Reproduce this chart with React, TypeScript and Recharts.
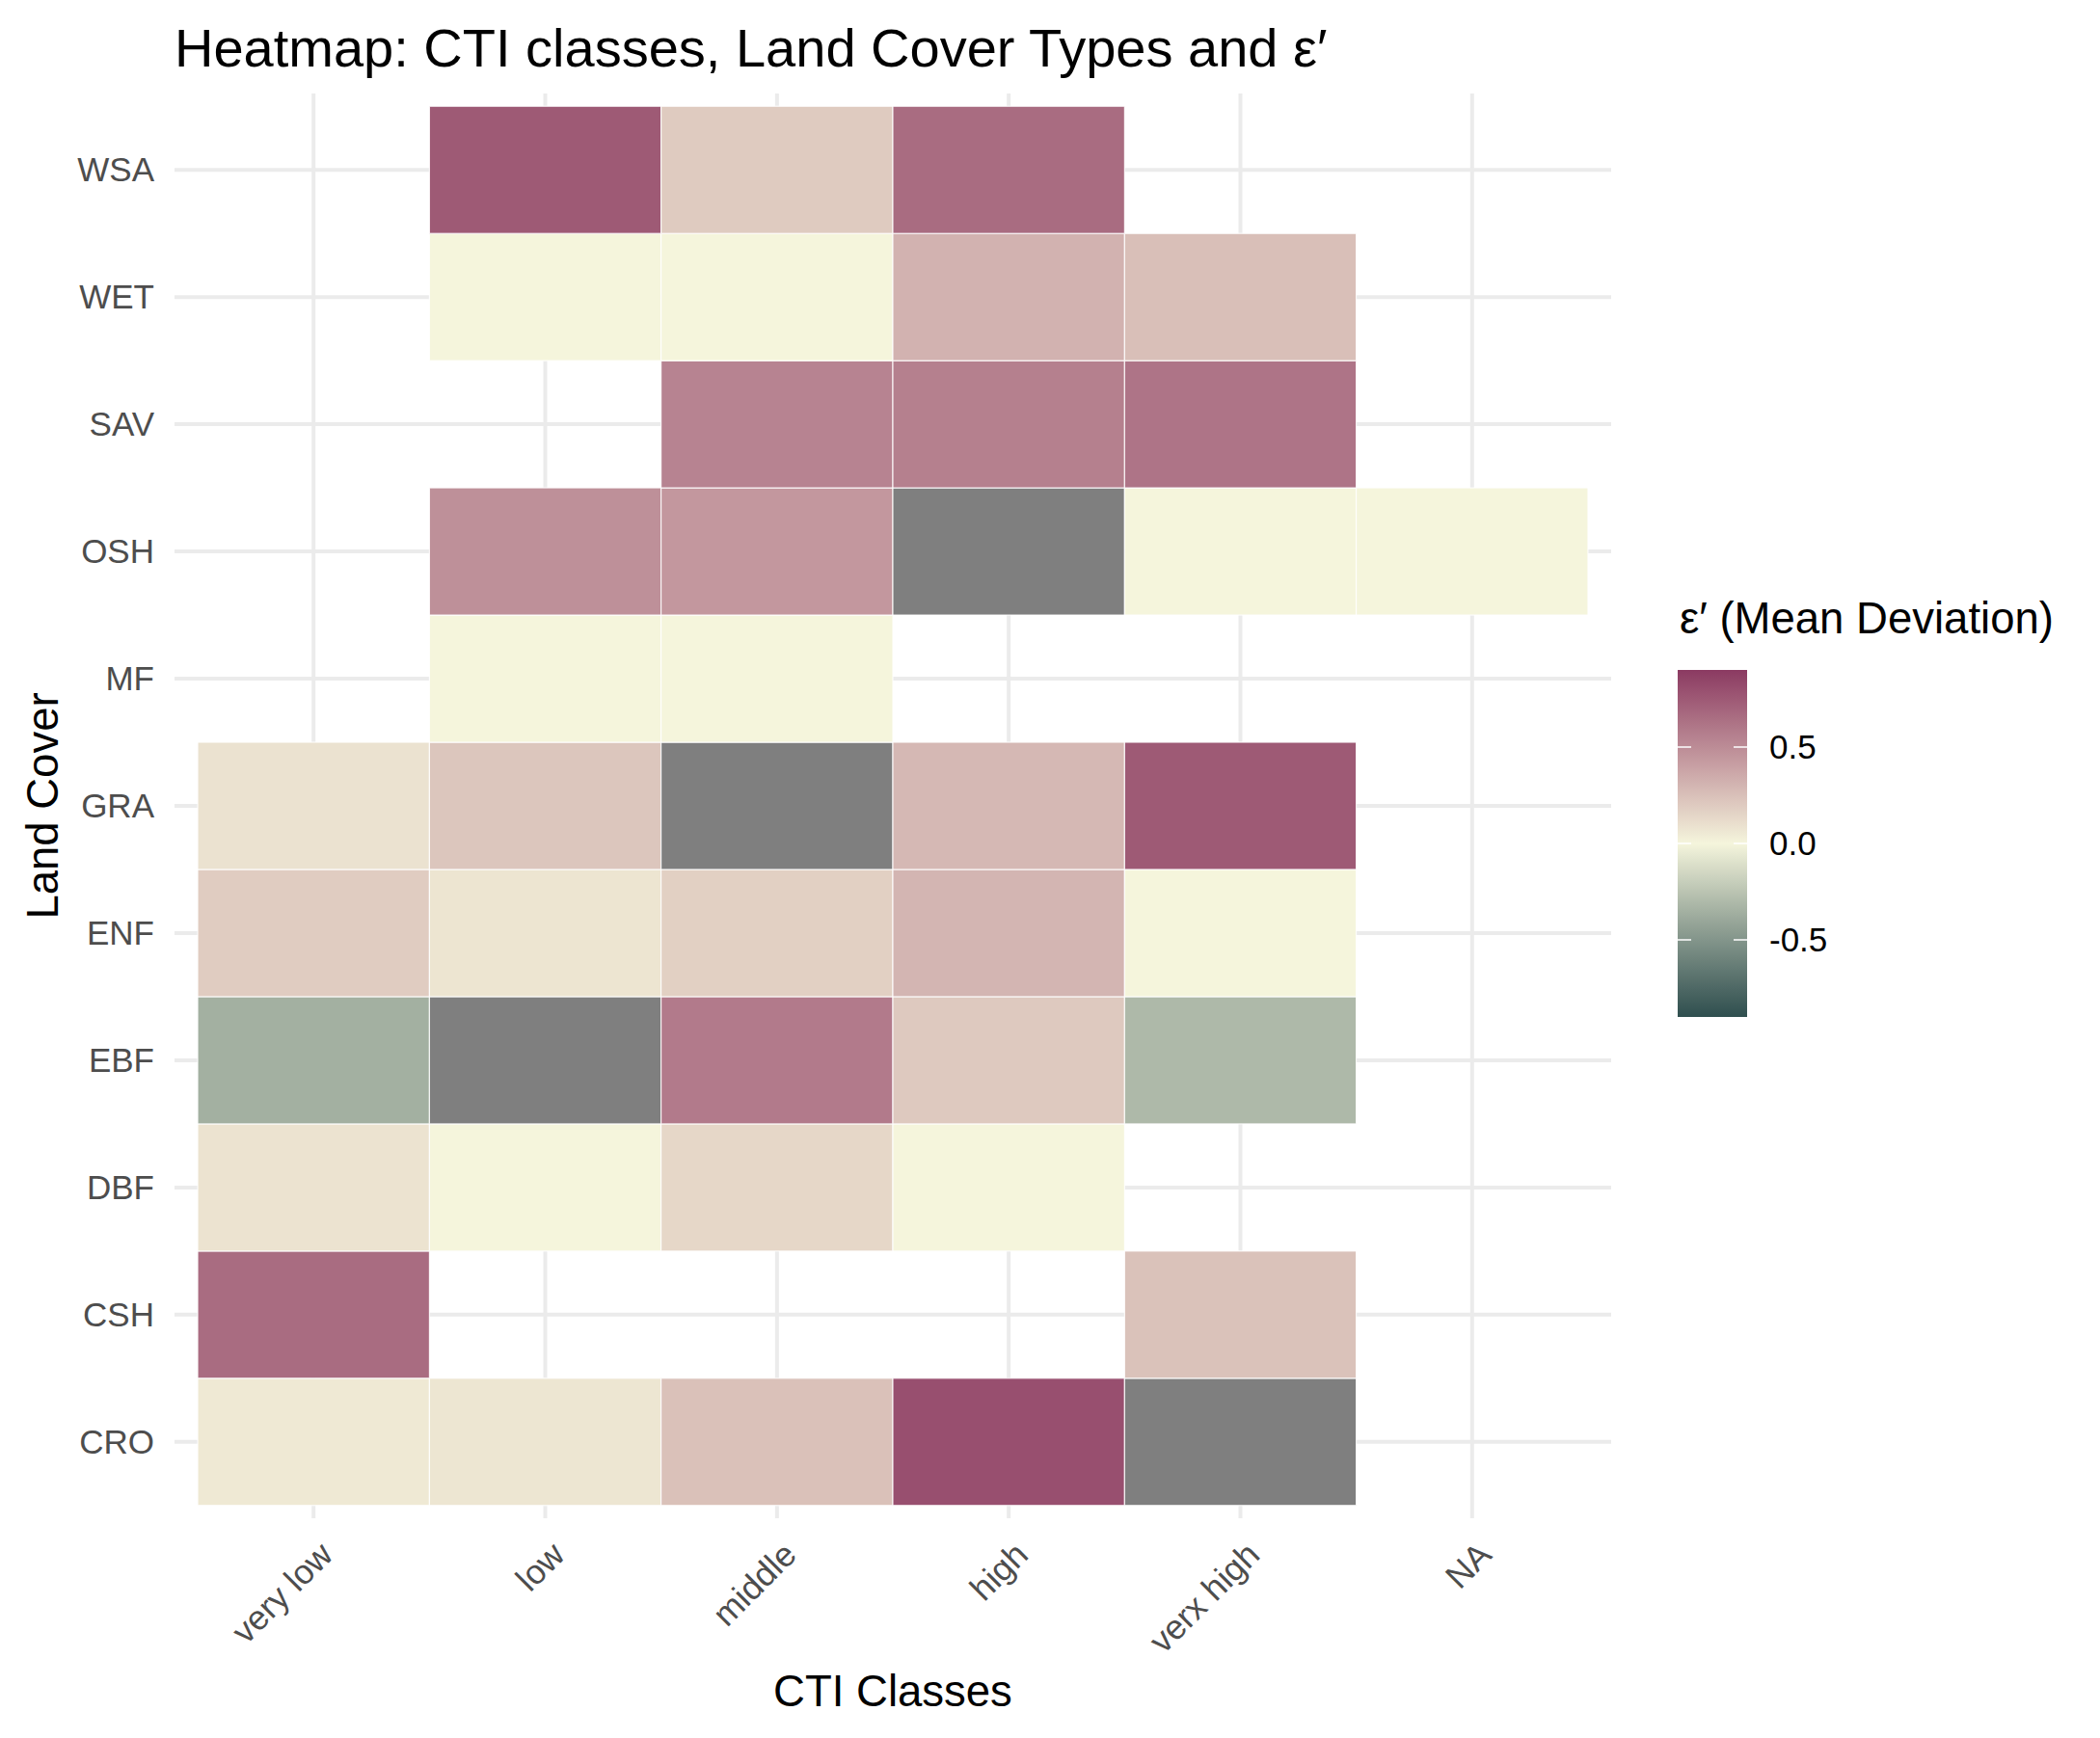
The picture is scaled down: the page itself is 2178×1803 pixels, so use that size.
import React from 'react';
import { ScatterChart, Scatter, XAxis, YAxis, ReferenceArea, ReferenceLine } from 'recharts';

// ---- data ----
const ctiClasses = ['very low', 'low', 'middle', 'high', 'verx high', 'NA'];
// bottom to top
const landCovers = ['CRO', 'CSH', 'DBF', 'EBF', 'ENF', 'GRA', 'MF', 'OSH', 'SAV', 'WET', 'WSA'];

const NA = 'NA';
// values per land cover, in ctiClasses order; null = no tile, NA = missing value tile
const CRO = [0.057, 0.069, 0.245, 0.8, NA, null];
const CSH = [0.657, null, null, null, 0.24, null];
const DBF = [0.085, 0.0, 0.139, 0.0, null, null];
const EBF = [-0.356, NA, 0.586, 0.205, -0.307, null];
const ENF = [0.19, 0.075, 0.174, 0.3, 0.0, null];
const GRA = [0.087, 0.22, NA, 0.286, 0.748, null];
const MF = [null, 0.0, 0.0, null, null, null];
const OSH = [null, 0.482, 0.445, NA, 0.0, 0.0];
const SAV = [null, null, 0.542, 0.56, 0.616, null];
const WET = [null, 0.0, 0.0, 0.315, 0.251, null];
const WSA = [null, 0.748, 0.197, 0.657, null, null];

const rowValues = [CRO, CSH, DBF, EBF, ENF, GRA, MF, OSH, SAV, WET, WSA];

const xTicks = [1, 2, 3, 4, 5, 6];
const yTicks = [1, 2, 3, 4, 5, 6, 7, 8, 9, 10, 11];

const legendLimits = [-0.9, 0.9];
const legendBreaks = [0.5, 0.0, -0.5];

const LOW = '#2F4F4F';
const MID = '#F5F5DC';
const HIGH = '#8B3A62';
const NA_COLOR = '#7F7F7F';

// ---- colour helpers (Lab interpolation like scales::div_gradient_pal) ----
function hexToRgb(h: string) {
  const n = parseInt(h.slice(1), 16);
  return [(n >> 16) & 255, (n >> 8) & 255, n & 255];
}
const toLin = (c: number) => {
  const v = c / 255;
  return v <= 0.04045 ? v / 12.92 : Math.pow((v + 0.055) / 1.055, 2.4);
};
const fromLin = (c: number) => {
  const v = c <= 0.0031308 ? 12.92 * c : 1.055 * Math.pow(c, 1 / 2.4) - 0.055;
  return Math.round(Math.max(0, Math.min(1, v)) * 255);
};
function rgbToLab(rgb: number[]) {
  const R = toLin(rgb[0]), G = toLin(rgb[1]), B = toLin(rgb[2]);
  const X = (0.4124 * R + 0.3576 * G + 0.1805 * B) / 0.95047;
  const Y = 0.2126 * R + 0.7152 * G + 0.0722 * B;
  const Z = (0.0193 * R + 0.1192 * G + 0.9505 * B) / 1.08883;
  const f = (t: number) => (t > 0.008856 ? Math.cbrt(t) : 7.787 * t + 16 / 116);
  return [116 * f(Y) - 16, 500 * (f(X) - f(Y)), 200 * (f(Y) - f(Z))];
}
function labToHex(lab: number[]) {
  const fy = (lab[0] + 16) / 116;
  const fx = fy + lab[1] / 500;
  const fz = fy - lab[2] / 200;
  const finv = (t: number) => (t * t * t > 0.008856 ? t * t * t : (t - 16 / 116) / 7.787);
  const X = finv(fx) * 0.95047, Y = finv(fy), Z = finv(fz) * 1.08883;
  const R = 3.2406 * X - 1.5372 * Y - 0.4986 * Z;
  const G = -0.9689 * X + 1.8758 * Y + 0.0415 * Z;
  const B = 0.0557 * X - 0.204 * Y + 1.057 * Z;
  return '#' + [fromLin(R), fromLin(G), fromLin(B)].map((c) => c.toString(16).padStart(2, '0')).join('');
}
const labLow = rgbToLab(hexToRgb(LOW));
const labMid = rgbToLab(hexToRgb(MID));
const labHigh = rgbToLab(hexToRgb(HIGH));
function fillFor(v: number | string) {
  if (v === NA) return NA_COLOR;
  const t = Math.max(-1, Math.min(1, (v as number) / legendLimits[1]));
  const end = t >= 0 ? labHigh : labLow;
  const a = Math.abs(t);
  return labToHex(labMid.map((m, i) => m + (end[i] - m) * a));
}

type Cell = { x: number; y: number; v: number | string };
const cells: Cell[] = [];
rowValues.forEach((row, i) => {
  row.forEach((v, j) => {
    if (v !== null) cells.push({ x: j + 1, y: i + 1, v: v as number | string });
  });
});

// ---- layout ----
const W = 2162;
const H = 1787;
const FONT = '"Liberation Sans", Arial, Helvetica, sans-serif';
const GRID = '#EBEBEB';

const XTick = (props: any) => {
  const { x, y, payload } = props;
  return (
    <text
      transform={`translate(${x + 22},${y + 40}) rotate(-45)`}
      textAnchor="end"
      fontSize={35.5}
      fontFamily={FONT}
      fill="#4D4D4D"
    >
      {ctiClasses[payload.value - 1]}
    </text>
  );
};

const YTick = (props: any) => {
  const { x, y, payload } = props;
  return (
    <text x={x} y={y} dy={12} textAnchor="end" fontSize={35} fontFamily={FONT} fill="#4D4D4D">
      {landCovers[payload.value - 1]}
    </text>
  );
};

const barTop = 687;
const barBottom = 1047;
const barLeft = 1732;
const barW = 72;
const legendY = (v: number) =>
  barTop + ((legendLimits[1] - v) / (legendLimits[1] - legendLimits[0])) * (barBottom - barTop);

const gradStops = Array.from({ length: 37 }, (_, k) => {
  const v = legendLimits[1] - (k / 36) * (legendLimits[1] - legendLimits[0]);
  return { offset: k / 36, color: fillFor(v) };
});

export default function App() {
  return (
    <div style={{ position: 'relative', width: W, height: H, background: '#fff' }}>
      <ScatterChart
        width={W}
        height={H}
        margin={{ top: 89, right: 499, bottom: 20, left: 23 }}
      >
        <XAxis
          dataKey="x"
          type="number"
          domain={[0.4, 6.6]}
          ticks={xTicks}
          interval={0}
          allowDataOverflow
          axisLine={false}
          tickLine={false}
          tickSize={0}
          tickMargin={0}
          height={200}
          tick={<XTick />}
        />
        <YAxis
          dataKey="y"
          type="number"
          domain={[0.4, 11.6]}
          ticks={yTicks}
          interval={0}
          allowDataOverflow
          axisLine={false}
          tickLine={false}
          tickSize={0}
          tickMargin={21}
          width={150}
          tick={<YTick />}
        />
        {xTicks.map((t) => (
          <ReferenceLine key={'gx' + t} x={t} stroke={GRID} strokeWidth={4} zIndex={-50} />
        ))}
        {yTicks.map((t) => (
          <ReferenceLine key={'gy' + t} y={t} stroke={GRID} strokeWidth={4} zIndex={-50} />
        ))}
        {cells.map((c, k) => (
          <ReferenceArea
            key={k}
            x1={c.x - 0.5}
            x2={c.x + 0.5}
            y1={c.y - 0.5}
            y2={c.y + 0.5}
            fill={fillFor(c.v)}
            fillOpacity={1}
            stroke="#FFFFFF"
            strokeWidth={1}
            ifOverflow="visible"
            zIndex={100}
          />
        ))}
        <Scatter data={cells} isAnimationActive={false} shape={() => <g />} />
      </ScatterChart>
      <svg
        width={W}
        height={H}
        style={{ position: 'absolute', left: 0, top: 0, pointerEvents: 'none' }}
      >
        <defs>
          <linearGradient id="legGrad" x1="0" y1="0" x2="0" y2="1">
            {gradStops.map((s, k) => (
              <stop key={k} offset={s.offset} stopColor={s.color} />
            ))}
          </linearGradient>
        </defs>
        <text x={173} y={61} fontSize={56} fontFamily={FONT} fill="#000">
          Heatmap: CTI classes, Land Cover Types and ε′
        </text>
        <text x={918} y={1762} textAnchor="middle" fontSize={45.5} fontFamily={FONT} fill="#000">
          CTI Classes
        </text>
        <text
          transform="translate(52,828) rotate(-90)"
          textAnchor="middle"
          fontSize={45.5}
          fontFamily={FONT}
          fill="#000"
        >
          Land Cover
        </text>
        <text x={1734} y={649} fontSize={45.5} fontFamily={FONT} fill="#000">
          ε′ (Mean Deviation)
        </text>
        <rect x={barLeft} y={barTop} width={barW} height={barBottom - barTop} fill="url(#legGrad)" />
        {legendBreaks.map((b) => (
          <g key={b}>
            <line x1={barLeft} x2={barLeft + 14} y1={legendY(b)} y2={legendY(b)} stroke="#fff" strokeWidth={1.5} />
            <line
              x1={barLeft + barW - 14}
              x2={barLeft + barW}
              y1={legendY(b)}
              y2={legendY(b)}
              stroke="#fff"
              strokeWidth={1.5}
            />
            <text x={1827} y={legendY(b) + 12} fontSize={35} fontFamily={FONT} fill="#000">
              {b.toFixed(1)}
            </text>
          </g>
        ))}
      </svg>
    </div>
  );
}
